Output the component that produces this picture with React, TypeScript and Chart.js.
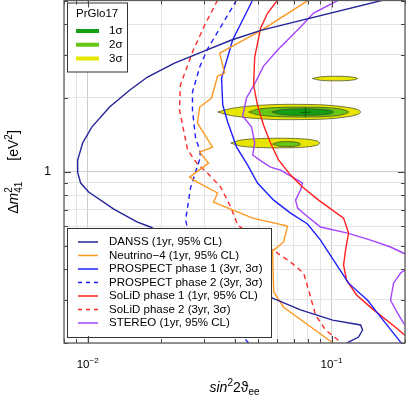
import React, { useEffect, useRef } from 'react';
import { Chart, registerables } from 'chart.js';

Chart.register(...registerables);

const FF = "'Liberation Sans', Arial, Helvetica, 'DejaVu Sans', sans-serif";

// ---- axes ----
const xTickValues = [0.008, 0.009, 0.01, 0.02, 0.03, 0.04, 0.05, 0.06, 0.07, 0.08, 0.09, 0.1, 0.2];
const yTickValues = [0.2, 0.3, 0.4, 0.5, 0.6, 0.7, 0.8, 0.9, 1, 2, 3, 4, 5];
const xMajorValues = [0.01, 0.1];
const yMajorValues = [1];
const xLabelValues = [0.01, 0.1];
const xLabelExponents = ['−2', '−1'];
const yLabelValues = [1];
const yLabelTexts = ['1'];

// ---- sensitivity curves [sin^2 2theta, dm2] ----
const danss: [number, number][] = [
  [0.1633, 5.021], [0.0517, 3.787], [0.0389, 3.449], [0.0293, 3.08], [0.0227, 2.777], [0.0176, 2.435],
  [0.0149, 2.155], [0.0123, 1.837], [0.0104, 1.522], [0.00954, 1.31], [0.0091, 1.116], [0.0091, 0.997],
  [0.00936, 0.899], [0.0101, 0.826], [0.0128, 0.704], [0.016, 0.623], [0.0181, 0.595], [0.0573, 0.305],
  [0.0746, 0.273], [0.101, 0.248], [0.1315, 0.237], [0.134, 0.226], [0.129, 0.2115], [0.1174, 0.2018], [0.113, 0.194],
];
const neutrino4: [number, number][] = [
  [0.0805, 5.021], [0.0517, 3.787], [0.0348, 3.051], [0.0364, 2.528], [0.0341, 2.458], [0.0322, 2.0],
  [0.0288, 1.837], [0.0282, 1.581], [0.0325, 1.261], [0.0288, 1.203], [0.0313, 1.085], [0.0262, 0.951],
  [0.0272, 0.925], [0.0341, 0.819], [0.0328, 0.752], [0.0475, 0.647], [0.066, 0.6], [0.0636, 0.517],
  [0.0573, 0.474], [0.0579, 0.323], [0.0636, 0.28], [0.1, 0.2018], [0.1048, 0.194],
];
const prospect1: [number, number][] = [
  [0.0475, 5.021], [0.0393, 3.449], [0.0354, 2.412], [0.0358, 1.872], [0.0375, 1.596], [0.0408, 1.261],
  [0.0453, 1.065], [0.0497, 0.899], [0.0579, 0.766], [0.0679, 0.678], [0.0797, 0.612], [0.0901, 0.526],
  [0.1019, 0.436], [0.1174, 0.351], [0.1405, 0.299], [0.1543, 0.265], [0.1918, 0.2018], [0.1973, 0.194],
];
const prospect2: [number, number][] = [
  [0.0408, 5.021], [0.031, 3.168], [0.0288, 2.675], [0.0269, 2.115], [0.0269, 1.786], [0.0277, 1.373],
  [0.0288, 1.226], [0.029, 1.148], [0.0277, 0.997], [0.0264, 0.858], [0.0257, 0.718], [0.0252, 0.635],
  [0.0277, 0.436], [0.0351, 0.273], [0.0453, 0.2018], [0.0466, 0.194],
];
const solid1: [number, number][] = [
  [0.0601, 5.021], [0.0547, 4.444], [0.0512, 3.86], [0.0484, 2.939], [0.0479, 2.259], [0.0497, 1.872],
  [0.0526, 1.551], [0.0562, 1.31], [0.0607, 1.116], [0.0679, 0.969], [0.076, 0.866], [0.0885, 0.766],
  [0.112, 0.647], [0.1174, 0.562], [0.1141, 0.479], [0.112, 0.416], [0.1152, 0.361], [0.1266, 0.314],
  [0.1486, 0.273], [0.1829, 0.232], [0.201, 0.214], [0.2148, 0.2032],
];
const solid2: [number, number][] = [
  [0.0341, 5.021], [0.0302, 3.97], [0.0269, 3.08], [0.024, 2.259], [0.0238, 1.786], [0.0245, 1.551],
  [0.0257, 1.226], [0.0282, 1.075], [0.031, 0.988], [0.0351, 0.866], [0.0386, 0.718], [0.0412, 0.606],
  [0.0537, 0.502], [0.0679, 0.428], [0.0768, 0.386], [0.0805, 0.329], [0.086, 0.26], [0.0945, 0.226],
  [0.1089, 0.2018], [0.1141, 0.194],
];
const stereo: [number, number][] = [
  [0.1068, 5.021], [0.0844, 4.444], [0.0746, 3.896], [0.0601, 3.139], [0.0526, 2.7], [0.0488, 2.323],
  [0.0448, 2.0], [0.0432, 1.688], [0.047, 1.522], [0.0484, 1.31], [0.0475, 1.17], [0.0522, 1.095],
  [0.0562, 1.045], [0.0618, 1.016], [0.0692, 0.951], [0.076, 0.899], [0.0746, 0.842], [0.0712, 0.766],
  [0.0726, 0.711], [0.0782, 0.666], [0.0901, 0.595], [0.1163, 0.562], [0.1445, 0.526], [0.1745, 0.493],
  [0.2049, 0.457], [0.2316, 0.428], [0.2049, 0.405], [0.1918, 0.386], [0.1795, 0.351], [0.1745, 0.299],
  [0.1864, 0.265], [0.1973, 0.241], [0.2049, 0.232], [0.221, 0.216],
];

// ---- PrGlo17 allowed regions (closed contours) ----
const big3s: [number, number][] = [
  [0.0341, 1.753], [0.0386, 1.811], [0.0466, 1.855], [0.059, 1.881], [0.0746, 1.884], [0.0945, 1.872],
  [0.1141, 1.837], [0.1278, 1.795], [0.1315, 1.753], [0.1278, 1.712], [0.1141, 1.672], [0.0945, 1.641],
  [0.0746, 1.633], [0.059, 1.633], [0.0466, 1.657], [0.0386, 1.696], [0.0341, 1.753],
];
const big2s: [number, number][] = [
  [0.0457, 1.753], [0.0502, 1.803], [0.059, 1.828], [0.0746, 1.837], [0.0945, 1.828], [0.1089, 1.803],
  [0.1174, 1.753], [0.1089, 1.704], [0.0945, 1.68], [0.0746, 1.672], [0.059, 1.68], [0.0502, 1.704], [0.0457, 1.753],
];
const big1s: [number, number][] = [
  [0.0568, 1.753], [0.0618, 1.791], [0.0746, 1.806], [0.0901, 1.798], [0.0991, 1.778], [0.1019, 1.753],
  [0.0991, 1.726], [0.0901, 1.707], [0.0746, 1.699], [0.0618, 1.712], [0.0568, 1.753],
];
const top3s: [number, number][] = [
  [0.0836, 2.401], [0.0901, 2.44], [0.1038, 2.454], [0.1196, 2.44], [0.1278, 2.401], [0.1196, 2.361],
  [0.1038, 2.35], [0.0901, 2.361], [0.0836, 2.401],
];
const low3s: [number, number][] = [
  [0.0386, 1.31], [0.0424, 1.347], [0.0512, 1.366], [0.0648, 1.37], [0.0782, 1.36], [0.0868, 1.337],
  [0.0893, 1.31], [0.0868, 1.282], [0.0782, 1.261], [0.0648, 1.252], [0.0512, 1.255], [0.0424, 1.273], [0.0386, 1.31],
];
const low2s: [number, number][] = [
  [0.0573, 1.297], [0.0607, 1.322], [0.066, 1.328], [0.0719, 1.319], [0.0746, 1.297], [0.0719, 1.275],
  [0.066, 1.267], [0.0607, 1.273], [0.0573, 1.297],
];
const bestFit: [number, number] = [0.0782, 1.748];

// ---- legends ----
const curveLabels = [
  'DANSS (1yr, 95% CL)', 'Neutrino−4 (1yr, 95% CL)', 'PROSPECT phase 1 (3yr, 3σ)', 'PROSPECT phase 2 (3yr, 3σ)',
  'SoLiD phase 1 (1yr, 95% CL)', 'SoLiD phase 2 (3yr, 3σ)', 'STEREO (1yr, 95% CL)',
];
const curveColors = ['#23239a', '#ff981f', '#1f1fff', '#1f1fff', '#ff1f1f', '#ff2a2a', '#a444ff'];
const curveDashed = [false, false, false, true, false, true, false];
const curveData = [danss, neutrino4, prospect1, prospect2, solid1, solid2, stereo];

const prgloTitle = 'PrGlo17';
const prgloLabels = ['1σ', '2σ', '3σ'];
const prgloColors = ['#12a012', '#66c814', '#e6e600'];

const DASH = [5, 4];

type Piece = { t: string; font: string; dy?: number; adv?: boolean };

function drawPieces(ctx: CanvasRenderingContext2D, pieces: Piece[], x: number, y: number, center: boolean) {
  let total = 0;
  const widths = pieces.map((p) => {
    ctx.font = p.font;
    const w = ctx.measureText(p.t).width;
    if (p.adv !== false) total += w;
    return w;
  });
  let cx = center ? x - total / 2 : x;
  pieces.forEach((p, i) => {
    ctx.font = p.font;
    ctx.fillText(p.t, cx, y + (p.dy || 0));
    if (p.adv !== false) cx += widths[i];
  });
}

const decor = {
  id: 'decor',
  afterDatasetsDraw(chart: any) {
    const ctx: CanvasRenderingContext2D = chart.ctx;
    const ca = chart.chartArea;
    ctx.save();
    // PrGlo17 legend
    const bx = ca.left + 3.5;
    const by = ca.top + 2.5;
    ctx.fillStyle = '#fff';
    ctx.fillRect(bx, by, 60, 69);
    ctx.strokeStyle = '#333';
    ctx.lineWidth = 1;
    ctx.strokeRect(bx, by, 60, 69);
    ctx.fillStyle = '#000';
    ctx.font = `11.5px ${FF}`;
    ctx.textAlign = 'left';
    ctx.textBaseline = 'middle';
    ctx.fillText(prgloTitle, bx + 8.5, by + 10.5);
    prgloLabels.forEach((lab, i) => {
      const yy = by + 28 + i * 13.75;
      ctx.strokeStyle = prgloColors[i];
      ctx.lineWidth = 4;
      ctx.beginPath();
      ctx.moveTo(bx + 8.5, yy);
      ctx.lineTo(bx + 31.5, yy);
      ctx.stroke();
      ctx.fillStyle = '#000';
      ctx.fillText(lab, bx + 41.5, yy);
    });
    // experiments legend
    const lx = ca.left + 3.5;
    const ly = 228.5;
    ctx.fillStyle = '#fff';
    ctx.fillRect(lx, ly, 204, 109);
    ctx.strokeStyle = '#333';
    ctx.lineWidth = 1;
    ctx.strokeRect(lx, ly, 204, 109);
    curveLabels.forEach((lab, i) => {
      const yy = ly + 13.5 + i * 13.5;
      ctx.strokeStyle = curveColors[i];
      ctx.lineWidth = 1.5;
      ctx.setLineDash(curveDashed[i] ? [4, 4] : []);
      ctx.beginPath();
      ctx.moveTo(lx + 10.5, yy);
      ctx.lineTo(lx + 30.5, yy);
      ctx.stroke();
      ctx.setLineDash([]);
      ctx.fillStyle = '#000';
      ctx.font = `11.5px ${FF}`;
      ctx.fillText(lab, lx + 41.5, yy);
    });
    ctx.restore();
  },
  afterDraw(chart: any) {
    const ctx: CanvasRenderingContext2D = chart.ctx;
    const ca = chart.chartArea;
    const xs = chart.scales.x;
    const ys = chart.scales.y;
    ctx.save();
    // inward ticks
    ctx.strokeStyle = '#444';
    ctx.lineWidth = 1;
    ctx.beginPath();
    xTickValues.forEach((v) => {
      const px = Math.round(xs.getPixelForValue(v)) + 0.5;
      const len = xMajorValues.includes(v) ? 7 : 4;
      ctx.moveTo(px, ca.bottom);
      ctx.lineTo(px, ca.bottom - len);
      ctx.moveTo(px, ca.top);
      ctx.lineTo(px, ca.top + len);
    });
    yTickValues.forEach((v) => {
      const py = Math.round(ys.getPixelForValue(v)) + 0.5;
      const len = yMajorValues.includes(v) ? 7 : 4;
      ctx.moveTo(ca.left, py);
      ctx.lineTo(ca.left + len, py);
      ctx.moveTo(ca.right, py);
      ctx.lineTo(ca.right - len, py);
    });
    ctx.stroke();
    // frame
    ctx.strokeStyle = '#5c5c5c';
    ctx.lineWidth = 1.3;
    ctx.strokeRect(ca.left, ca.top, ca.right - ca.left, ca.bottom - ca.top);
    // tick labels
    ctx.fillStyle = '#000';
    ctx.textBaseline = 'alphabetic';
    ctx.textAlign = 'left';
    xLabelValues.forEach((v, i) => {
      const px = xs.getPixelForValue(v);
      drawPieces(ctx, [
        { t: '10', font: `11.5px ${FF}` },
        { t: xLabelExponents[i], font: `8px ${FF}`, dy: -5 },
      ], px, ca.bottom + 25, true);
    });
    ctx.textAlign = 'right';
    ctx.textBaseline = 'middle';
    ctx.font = `12px ${FF}`;
    yLabelValues.forEach((v, i) => {
      ctx.fillText(yLabelTexts[i], ca.left - 13, ys.getPixelForValue(v));
    });
    // x title
    ctx.textAlign = 'left';
    ctx.textBaseline = 'alphabetic';
    drawPieces(ctx, [
      { t: 'sin', font: `italic 14px ${FF}` },
      { t: '2', font: `10px ${FF}`, dy: -6 },
      { t: '2ϑ', font: `14px ${FF}` },
      { t: 'ee', font: `10px ${FF}`, dy: 3 },
    ], (ca.left + ca.right) / 2, 392, true);
    // y title
    ctx.translate(18, 172);
    ctx.rotate(-Math.PI / 2);
    drawPieces(ctx, [
      { t: 'Δ', font: `14px ${FF}` },
      { t: 'm', font: `italic 14px ${FF}` },
      { t: '2', font: `10px ${FF}`, dy: -6, adv: false },
      { t: '41', font: `10px ${FF}`, dy: 4 },
      { t: '\u2003\u2002', font: `14px ${FF}` },
      { t: '[eV', font: `14px ${FF}` },
      { t: '2', font: `10px ${FF}`, dy: -6 },
      { t: ']', font: `14px ${FF}` },
    ], 0, 0, true);
    ctx.restore();
  },
};

export default function App() {
  const ref = useRef<HTMLCanvasElement | null>(null);
  useEffect(() => {
    if (!ref.current) return;
    const toXY = (arr: [number, number][]) => arr.map(([x, y]) => ({ x, y }));
    const curveSets = curveData.map((d, i) => ({
      label: curveLabels[i],
      data: toXY(d),
      showLine: true,
      borderColor: curveColors[i],
      borderWidth: 1.4,
      borderDash: curveDashed[i] ? DASH : [],
      pointRadius: 0,
      tension: 0,
      fill: false,
      order: 0,
    }));
    const contour = (d: [number, number][], color: string, order: number) => ({
      label: 'contour',
      data: toXY(d),
      showLine: true,
      borderColor: 'rgba(70,70,40,0.9)',
      borderWidth: 0.8,
      backgroundColor: color,
      fill: 'shape',
      pointRadius: 0,
      tension: 0.35,
      order,
    });
    const chart = new Chart(ref.current, {
      type: 'scatter',
      data: {
        datasets: [
          ...curveSets,
          {
            label: 'best fit',
            data: [{ x: bestFit[0], y: bestFit[1] }],
            showLine: false,
            pointStyle: 'cross',
            pointRadius: 5,
            borderColor: '#0a6a0a',
            borderWidth: 1.2,
            order: 0.5,
          },
          contour(big1s, prgloColors[0], 1),
          contour(big2s, prgloColors[1], 2),
          contour(low2s, prgloColors[1], 2),
          contour(big3s, prgloColors[2], 3),
          contour(top3s, prgloColors[2], 3),
          contour(low3s, prgloColors[2], 3),
        ] as any,
      },
      options: {
        animation: false,
        responsive: false,
        maintainAspectRatio: false,
        events: [],
        layout: { autoPadding: false, padding: { top: 0.5, right: 2, left: 0, bottom: 0 } },
        plugins: { legend: { display: false }, tooltip: { enabled: false } },
        scales: {
          x: {
            type: 'logarithmic',
            min: 0.008,
            max: 0.2,
            afterBuildTicks: (s: any) => { s.ticks = xTickValues.map((v) => ({ value: v })); },
            afterFit: (s: any) => { s.height = 53; },
            ticks: { display: false },
            border: { display: false },
            grid: {
              drawTicks: false,
              color: (c: any) => (xMajorValues.includes(c.tick?.value) ? '#cdcdcd' : '#e4e4e4'),
            },
          },
          y: {
            type: 'logarithmic',
            min: 0.2,
            max: 5,
            afterBuildTicks: (s: any) => { s.ticks = yTickValues.map((v) => ({ value: v })); },
            afterFit: (s: any) => { s.width = 64; },
            ticks: { display: false },
            border: { display: false },
            grid: {
              drawTicks: false,
              color: (c: any) => (yMajorValues.includes(c.tick?.value) ? '#cdcdcd' : '#e4e4e4'),
            },
          },
        },
      } as any,
      plugins: [decor],
    });
    return () => chart.destroy();
  }, []);
  return (
    <div style={{ position: 'absolute', left: 0, top: 0, width: 407, height: 396 }}>
      <canvas ref={ref} width={407} height={396} style={{ display: 'block', width: 407, height: 396 }} />
    </div>
  );
}
